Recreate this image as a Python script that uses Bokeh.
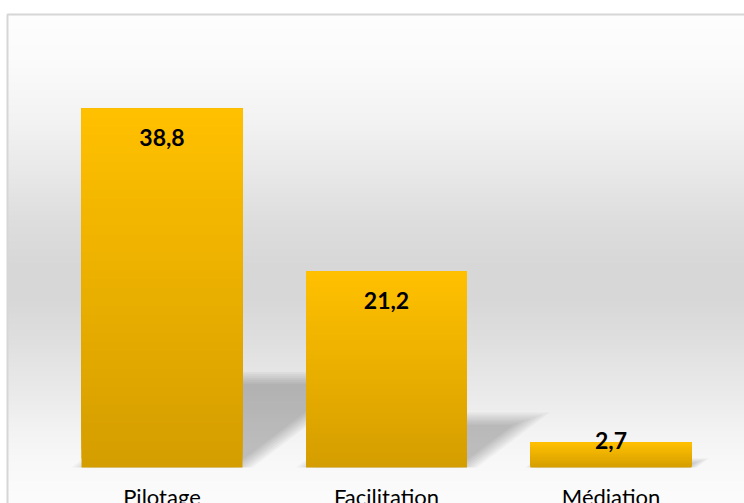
import numpy as np
from bokeh.plotting import figure
from bokeh.models import Range1d, ColumnDataSource
from bokeh.core.properties import value
from bokeh.embed import file_html
from bokeh.resources import INLINE

# ---- data ----
categories = ["Pilotage", "Facilitation", "Médiation"]
values = [38.8, 21.2, 2.7]
value_labels = ["38,8", "21,2", "2,7"]

# ---- layout (pixels) ----
W, H = 744, 503
AREA_LEFT, AREA_TOP = 7, 14          # chart-area border corner
CAT_LEFT_PX = 49.25                  # left edge of the first category slot
CAT_STEP_PX = 224.5                  # width of one category slot
BASE_PX = 467                        # value axis zero
TOP_PX = 51                          # value axis maximum
Y_MAX = 45
BAR_WIDTH = 0.717                    # fraction of a category slot
CAT_LABEL_BASELINE_PX = 496

y_unit = (BASE_PX - TOP_PX) / Y_MAX  # px per value unit


def px_x(px):
    return (px - CAT_LEFT_PX) / CAT_STEP_PX


def px_y(py):
    return (BASE_PX - py) / y_unit


p = figure(width=W, height=H,
           x_range=Range1d(px_x(0), px_x(W)),
           y_range=Range1d(px_y(H), px_y(0)),
           min_border=0, toolbar_location=None, output_backend="svg",
           x_axis_location=None, y_axis_location=None)
p.outline_line_color = None
p.background_fill_color = "white"
p.border_fill_color = "white"
p.grid.visible = False

# ---- chart-area background: vertical grey gradient ----
grad_stops = [(14, 254), (60, 251), (120, 243), (170, 233), (220, 222),
              (270, 215), (300, 216), (335, 222), (370, 230), (400, 236),
              (430, 243), (460, 248), (490, 251), (503, 252)]
n_rows = H - AREA_TOP
row_py = H - np.arange(n_rows) - 0.5
grey = np.interp(row_py, [s[0] for s in grad_stops], [s[1] for s in grad_stops])
img = np.empty((n_rows, 1), dtype=np.uint32)
view = img.view(dtype=np.uint8).reshape((n_rows, 1, 4))
view[:, 0, 0] = grey.astype(np.uint8)
view[:, 0, 1] = grey.astype(np.uint8)
view[:, 0, 2] = grey.astype(np.uint8)
view[:, 0, 3] = 255
p.image_rgba(image=[img], x=px_x(AREA_LEFT), y=px_y(H),
             dw=px_x(W) - px_x(AREA_LEFT), dh=px_y(AREA_TOP) - px_y(H))

# chart-area border (only the top and left edges fall inside the page)
p.quad(left=px_x(AREA_LEFT), right=px_x(W + 20), top=px_y(AREA_TOP),
       bottom=px_y(H + 20), fill_color=None, line_color="#d6d6d6", line_width=2)

centers = [i + 0.5 for i in range(len(categories))]
half = BAR_WIDTH / 2

# ---- perspective shadows (diagonal, upper right), soft edges by layering ----
SHEAR_K = 0.33     # horizontal shift per px of bar height
SHEAR_S = 0.25     # vertical squash
side_dx = np.sqrt(SHEAR_K ** 2 + SHEAR_S ** 2) / SHEAR_S
ratio = SHEAR_K / SHEAR_S
sh_xs, sh_ys = [], []
for c, v in zip(centers, values):
    h_px = v * y_unit
    x0_px = (c - half) * CAT_STEP_PX
    x1_px = (c + half) * CAT_STEP_PX
    blur = min(6.0, 0.5 * SHEAR_S * h_px)
    for d in np.linspace(-blur, blur, 7):
        top = SHEAR_S * h_px - d
        if top <= 0.5:
            continue
        dx = side_dx * d
        xs_px = [x0_px + dx, x1_px - dx,
                 x1_px - dx + ratio * top, x0_px + dx + ratio * top]
        if xs_px[1] <= xs_px[0]:
            continue
        sh_xs.append([x / CAT_STEP_PX for x in xs_px])
        sh_ys.append([0, 0, top / y_unit, top / y_unit])
p.patches(xs=sh_xs, ys=sh_ys, fill_color="black", fill_alpha=0.034, line_color=None)

# ---- bars with a vertical gold gradient ----
N_STEPS = 40
top_rgb = np.array([255, 192, 0])
bot_rgb = np.array([213, 158, 0])
b_left, b_right, b_top, b_bottom, b_color = [], [], [], [], []
for j in range(N_STEPS):
    t = j / (N_STEPS - 1)
    rgb = bot_rgb + (top_rgb - bot_rgb) * t
    col = "#%02x%02x%02x" % tuple(int(round(x)) for x in rgb)
    for c, v in zip(centers, values):
        b_left.append(c - half)
        b_right.append(c + half)
        b_bottom.append(v * j / N_STEPS)
        b_top.append(v)
        b_color.append(col)
p.quad(source=ColumnDataSource(dict(left=b_left, right=b_right, top=b_top,
                                    bottom=b_bottom, color=b_color)),
       left="left", right="right", top="top", bottom="bottom",
       fill_color="color", line_color=None)

# ---- value labels: inside the bar end, above it when the bar is short ----
label_offsets = [29 if v * y_unit > 60 else -2 for v in values]
p.text(source=ColumnDataSource(dict(x=centers, y=values, t=value_labels,
                                    off=label_offsets)),
       x="x", y="y", text="t", y_offset="off",
       text_font=value("Lato"), text_font_style="bold", text_font_size="23px",
       text_color="#000000", text_align="center", text_baseline="middle")

# ---- category labels ----
p.text(x=centers, y=[px_y(CAT_LABEL_BASELINE_PX)] * len(centers), text=categories,
       text_font=value("Lato"), text_font_size="22px", text_color="#000000",
       text_align="center", text_baseline="alphabetic")

open("out.html", "w").write(file_html(p, INLINE))
